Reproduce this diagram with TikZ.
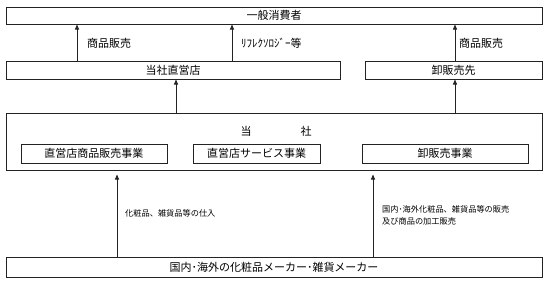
\documentclass[tikz,border=0pt]{standalone}
\usepackage{fontspec}
\newfontfamily\jpfont{Noto Sans CJK JP}
\definecolor{ink}{RGB}{35,35,35}
\usetikzlibrary{arrows.meta}

\begin{document}
\begin{tikzpicture}[x=1pt, y=-1pt,
    box/.style={draw=ink, line width=1pt, inner sep=0pt, font=\jpfont\fontsize{11}{13}\selectfont},
    up/.style={draw=ink, line width=0.8pt, -{Triangle[length=5pt,width=4pt]}},
    lbl/.style={font=\jpfont\fontsize{11}{13}\selectfont, anchor=west, inner sep=0pt},
    note/.style={font=\jpfont\fontsize{8.2}{12}\selectfont, anchor=west, inner sep=0pt, align=left}]
  \useasboundingbox (0,0) rectangle (547,282);

  % upper row
  \node[box, minimum width=536pt, minimum height=17pt] (cons) at (274,15.5) {一般消費者};
  \node[box, minimum width=334pt, minimum height=18pt] (shop) at (173,70) {当社直営店};
  \node[box, minimum width=177pt, minimum height=18pt] (whsl) at (453.5,70) {卸販売先};

  % the company and its three businesses
  \node[box, minimum width=536pt, minimum height=57pt] (comp) at (274,141.5) {};
  \node[lbl, anchor=center] (compname) at (276,131) {当\hspace{49pt}社};
  \node[box, minimum width=146pt, minimum height=19pt] (retail) at (94,153.5) {直営店商品販売事業};
  \node[box, minimum width=127pt, minimum height=19pt] (serv) at (256.5,153.5) {直営店サービス事業};
  \node[box, minimum width=166pt, minimum height=19pt] (whbiz) at (445,153.5) {卸販売事業};

  % suppliers
  \node[box, minimum width=536pt, minimum height=20pt] (maker) at (274,267) {国内･海外の化粧品メーカー･雑貨メーカー};

  \draw[up] (shop.north -| 77,0) -- (cons.south -| 77,0);
  \draw[up] (shop.north -| 232,0) -- (cons.south -| 232,0);
  \draw[up] (whsl.north -| 455,0) -- (cons.south -| 455,0);
  \node[lbl] (l1) at (87,43) {商品販売};
  \node[lbl] (l2) at (241,43) {ﾘﾌﾚｸｿﾛｼﾞｰ等};
  \node[lbl] (l3) at (459,43) {商品販売};

  \draw[up] (comp.north -| 176,0) -- (shop.south -| 176,0);
  \draw[up] (comp.north -| 455,0) -- (whsl.south -| 455,0);

  \draw[up, shorten >=4pt] (maker.north -| 117,0) -- (comp.south -| 117,0);
  \draw[up, shorten >=4pt] (maker.north -| 373,0) -- (comp.south -| 373,0);
  \node[note] (n1) at (125,213) {化粧品、雑貨品等の仕入};
  \node[note] (n2) at (382,215) {国内･海外化粧品、雑貨品等の販売\\及び商品の加工販売};
\end{tikzpicture}
\end{document}
